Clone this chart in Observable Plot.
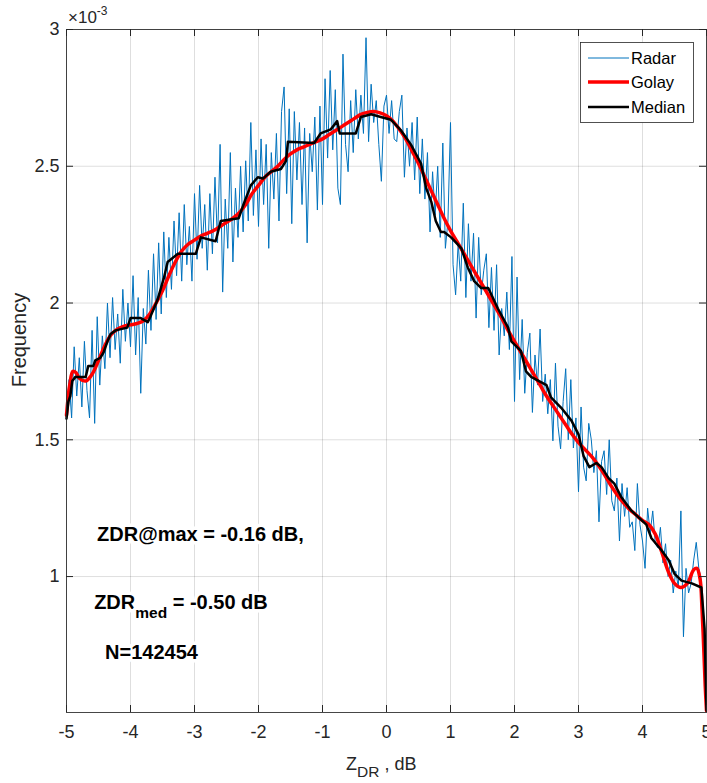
<!DOCTYPE html>
<html><head><meta charset="utf-8">
<script src="https://cdn.jsdelivr.net/npm/d3@7"></script>
<script src="https://cdn.jsdelivr.net/npm/@observablehq/plot@0.6"></script>
<style>html,body{margin:0;padding:0;background:#fff} svg{display:block}</style>
</head><body><div id="chart"></div>
<script>
// ---- data (frequency values in units of 1e-3) ----
const seriesNames = ["Radar", "Golay", "Median"];
const xTicks = [-5, -4, -3, -2, -1, 0, 1, 2, 3, 4, 5];
const yTicks = [1, 1.5, 2, 2.5, 3];

// radar histogram bins: -5 .. 5 dB, 0.04 dB wide
const radarBins = d3.range(251).map(i => +(-5 + i * 0.04).toFixed(2));
const radarValues = [
  1.60,1.72,1.58,1.84,1.66,1.80,1.62,1.86,1.68,1.58,1.90,1.56,1.95,1.70,1.88,1.76,2.00,1.80,2.02,1.83,1.96,1.78,2.05,1.86,2.00,
  1.84,2.10,1.81,2.02,1.67,1.98,1.85,2.12,1.90,2.18,1.94,2.22,1.96,2.26,2.02,2.24,2.05,2.30,2.10,2.33,2.08,2.36,2.14,2.28,2.08,
  2.40,2.16,2.43,2.20,2.36,2.12,2.40,2.18,2.46,2.22,2.58,2.04,2.38,2.20,2.55,2.15,2.42,2.24,2.50,2.26,2.52,2.30,2.66,2.32,2.56,
  2.28,2.60,2.36,2.58,2.20,2.55,2.38,2.62,2.30,2.70,2.79,2.40,2.71,2.29,2.70,2.45,2.66,2.36,2.64,2.22,2.62,2.48,2.68,2.34,2.72,
  2.36,2.82,2.53,2.85,2.56,2.78,2.42,2.36,2.91,2.58,2.48,2.74,2.55,2.78,2.60,2.76,2.62,2.97,2.59,2.80,2.66,2.74,2.58,2.445,2.72,
  2.76,2.62,2.74,2.60,2.59,2.70,2.76,2.46,2.64,2.50,2.66,2.45,2.68,2.40,2.60,2.38,2.55,2.26,2.48,2.32,2.50,2.24,2.585,2.20,2.30,
  2.66,2.14,2.03,2.22,2.08,2.365,2.02,2.29,2.08,2.255,1.945,2.24,2.03,2.12,2.18,1.91,2.13,1.90,2.14,1.81,1.98,1.88,2.04,1.83,2.17,
  1.64,2.095,1.72,1.94,1.67,1.82,1.89,1.60,1.81,1.70,1.905,1.64,1.74,1.595,1.72,1.496,1.78,1.55,1.467,1.64,1.76,1.50,1.72,1.47,1.58,
  1.31,1.62,1.40,1.35,1.56,1.50,1.38,1.46,1.20,1.42,1.46,1.30,1.50,1.277,1.24,1.36,1.13,1.34,1.22,1.325,1.18,1.20,1.095,1.34,1.19,
  1.13,1.03,1.25,1.16,1.24,1.12,1.105,1.18,1.05,1.12,1.00,1.06,0.94,1.02,0.96,1.24,0.78,1.03,0.94,0.975,1.06,1.125,1.03,0.985,0.80,0.52
];

const golayX = [-5.0,-4.95,-4.9,-4.85,-4.8,-4.7,-4.6,-4.5,-4.4,-4.3,-4.2,-4.1,-4.0,-3.9,-3.8,-3.7,-3.6,-3.5,-3.4,-3.3,-3.2,-3.1,-3.0,-2.9,-2.8,-2.7,-2.6,-2.5,-2.4,-2.3,-2.2,-2.1,-2.0,-1.9,-1.8,-1.7,-1.6,-1.5,-1.4,-1.3,-1.2,-1.1,-1.0,-0.9,-0.8,-0.7,-0.6,-0.5,-0.4,-0.3,-0.2,-0.1,0.0,0.1,0.2,0.3,0.4,0.5,0.6,0.7,0.8,0.9,1.0,1.1,1.2,1.3,1.4,1.5,1.6,1.7,1.8,1.9,2.0,2.1,2.2,2.3,2.4,2.5,2.6,2.7,2.8,2.9,3.0,3.1,3.2,3.3,3.4,3.5,3.6,3.7,3.8,3.9,4.0,4.1,4.2,4.3,4.4,4.5,4.6,4.7,4.8,4.85,4.9,4.93,4.96,4.98,5.0];
const golayY = [1.59,1.70,1.75,1.745,1.725,1.715,1.74,1.79,1.845,1.885,1.905,1.915,1.92,1.925,1.935,1.96,2.00,2.045,2.10,2.15,2.19,2.215,2.23,2.245,2.255,2.265,2.28,2.295,2.31,2.33,2.36,2.40,2.43,2.46,2.48,2.50,2.525,2.545,2.56,2.57,2.58,2.59,2.60,2.615,2.63,2.645,2.66,2.675,2.69,2.697,2.70,2.695,2.685,2.665,2.635,2.60,2.555,2.51,2.46,2.41,2.36,2.31,2.265,2.225,2.185,2.145,2.105,2.065,2.025,1.985,1.945,1.90,1.86,1.82,1.78,1.74,1.70,1.66,1.625,1.59,1.555,1.52,1.49,1.465,1.44,1.41,1.375,1.335,1.30,1.27,1.245,1.225,1.205,1.19,1.155,1.09,1.02,0.975,0.96,0.975,1.025,1.03,0.99,0.88,0.72,0.60,0.51];

const medianX = [-5.00,-4.97,-4.94,-4.91,-4.86,-4.70,-4.66,-4.58,-4.55,-4.47,-4.42,-4.36,-4.31,-4.23,-4.05,-4.00,-3.84,-3.73,-3.69,-3.58,-3.48,-3.42,-3.26,-2.98,-2.90,-2.67,-2.59,-2.31,-2.25,-2.12,-2.01,-1.93,-1.81,-1.65,-1.57,-1.54,-1.13,-1.03,-0.87,-0.77,-0.73,-0.48,-0.40,-0.24,-0.09,0.07,0.23,0.38,0.54,0.62,0.70,0.77,0.85,0.90,1.01,1.17,1.27,1.37,1.48,1.59,1.74,1.90,1.95,2.10,2.18,2.26,2.50,2.57,2.73,2.89,3.00,3.08,3.17,3.28,3.36,3.47,3.56,3.67,3.83,4.06,4.14,4.30,4.41,4.50,4.61,4.77,4.92,4.97,5.00];
const medianY = [1.577,1.64,1.66,1.715,1.73,1.73,1.77,1.77,1.79,1.80,1.82,1.86,1.887,1.90,1.91,1.945,1.945,1.93,1.95,2.01,2.09,2.15,2.18,2.18,2.24,2.226,2.30,2.31,2.35,2.43,2.46,2.455,2.48,2.49,2.52,2.59,2.585,2.62,2.635,2.665,2.62,2.62,2.68,2.69,2.68,2.67,2.63,2.58,2.51,2.42,2.37,2.30,2.26,2.26,2.24,2.20,2.13,2.08,2.055,2.055,1.98,1.91,1.86,1.825,1.75,1.73,1.70,1.655,1.617,1.57,1.52,1.44,1.40,1.415,1.40,1.36,1.34,1.29,1.24,1.19,1.14,1.095,1.06,1.01,0.985,0.975,0.96,0.81,0.51];

// ---- build tables ----
const radar = radarBins.map((x, i) => ({x, y: radarValues[i]}));
const golay = golayX.map((x, i) => ({x, y: golayY[i]}));
const median = medianX.map((x, i) => ({x, y: medianY[i]}));

const W = 707, H = 783, mL = 66, mR = 1, mT = 29, mB = 71;
const innerW = W - mL - mR, innerH = H - mT - mB;
const FONT = "'Liberation Sans', Arial, Helvetica, sans-serif";
const AX = "#262626";

const chart = Plot.plot({
  width: W, height: H,
  marginLeft: mL, marginRight: mR, marginTop: mT, marginBottom: mB,
  style: {fontFamily: FONT, fontSize: "18px", color: AX, background: "#fff"},
  x: {domain: [-5, 5]},
  y: {domain: [0.503, 3]},
  marks: [
    Plot.gridX(xTicks, {stroke: "#000", strokeOpacity: 0.13}),
    Plot.gridY(yTicks, {stroke: "#000", strokeOpacity: 0.13}),
    Plot.line(radar, {x: "x", y: "y", stroke: "#0072BD", strokeWidth: 1}),
    Plot.line(golay, {x: "x", y: "y", stroke: "#ff0000", strokeWidth: 3.5, curve: "catmull-rom"}),
    Plot.line(median, {x: "x", y: "y", stroke: "#000", strokeWidth: 2.5}),
    Plot.frame({stroke: AX, strokeOpacity: 0.85}),
    Plot.tickX(xTicks, {x: d => d, stroke: AX, insetTop: innerH - 7}),
    Plot.tickX(xTicks, {x: d => d, stroke: AX, insetBottom: innerH - 7}),
    Plot.tickY(yTicks, {y: d => d, stroke: AX, insetRight: innerW - 7}),
    Plot.tickY(yTicks, {y: d => d, stroke: AX, insetLeft: innerW - 7}),
    Plot.axisX(xTicks, {tickSize: 0, tickPadding: 13, tickFormat: d => String(d), label: null, fontSize: 18, fill: AX}),
    Plot.axisY(yTicks, {tickSize: 0, tickPadding: 7, tickFormat: d => String(d), label: null, fontSize: 18, fill: AX})
  ]
});
document.getElementById("chart").appendChild(chart);

const svg = d3.select(chart);
const sx = chart.scale("x"), sy = chart.scale("y");

// exponent label
const ex = svg.append("text").attr("x", 68).attr("y", 23).attr("font-family", FONT)
  .attr("text-anchor", "start").attr("font-size", 17).attr("fill", AX);
ex.append("tspan").text("×10");
ex.append("tspan").attr("font-size", 12).attr("dy", -8).text("-3");

// axis labels
const xl = svg.append("text").attr("x", 346).attr("y", 770).attr("font-family", FONT)
  .attr("text-anchor", "start").attr("font-size", 18).attr("fill", AX);
xl.append("tspan").text("Z");
xl.append("tspan").attr("font-size", 15.5).attr("dy", 7).text("DR");
xl.append("tspan").attr("dy", -7).text(" , dB");

svg.append("text").attr("transform", "translate(26,340) rotate(-90)")
  .attr("text-anchor", "middle").attr("font-family", FONT).attr("font-size", 20)
  .attr("fill", AX).text("Frequency");

// annotations
const ann = svg.append("g").attr("font-family", FONT).attr("font-weight", "bold")
  .attr("text-anchor", "start")
  .attr("fill", "#000").attr("stroke", "#fff").attr("stroke-width", 7)
  .attr("paint-order", "stroke").attr("stroke-linejoin", "round").attr("font-size", 20);
ann.append("text").attr("x", sx.apply(-4.515)).attr("y", sy.apply(1.128)).text("ZDR@max = -0.16 dB,");
const t2 = ann.append("text").attr("x", sx.apply(-4.56)).attr("y", sy.apply(0.88));
t2.append("tspan").text("ZDR");
t2.append("tspan").attr("font-size", 15.5).attr("dy", 9).text("med");
t2.append("tspan").attr("dy", -9).text(" = -0.50 dB");
ann.append("text").attr("x", sx.apply(-4.39)).attr("y", sy.apply(0.697)).text("N=142454");

// legend
const lg = svg.append("g").attr("font-family", FONT).attr("font-size", 16.5).attr("text-anchor", "start");
lg.append("rect").attr("x", 580.5).attr("y", 42.5).attr("width", 113).attr("height", 80)
  .attr("fill", "#fff").attr("stroke", AX).attr("stroke-width", 0.8);
const legendStyle = [
  {color: "#0072BD", w: 1, cy: 58},
  {color: "#ff0000", w: 3.5, cy: 82},
  {color: "#000", w: 2.5, cy: 107}
];
seriesNames.forEach((name, i) => {
  const s = legendStyle[i];
  lg.append("line").attr("x1", 588).attr("x2", 629).attr("y1", s.cy).attr("y2", s.cy)
    .attr("stroke", s.color).attr("stroke-width", s.w);
  lg.append("text").attr("x", 631).attr("y", s.cy + 6).attr("fill", "#000").text(name);
});
</script>
</body></html>
